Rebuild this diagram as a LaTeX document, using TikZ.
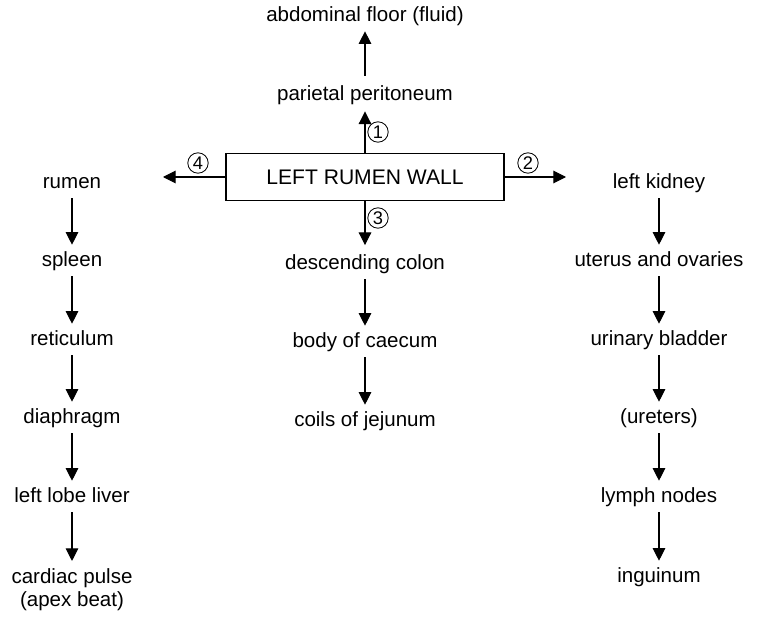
\documentclass[tikz,border=0pt]{standalone}
\usepackage{fontspec}
\setmainfont{Liberation Sans}
\usetikzlibrary{arrows.meta, positioning}

\tikzset{
  organ/.style={inner sep=0pt, text height=10pt, text depth=3pt, font=\fontsize{14.6}{16.5}\selectfont},
  flow/.style={-{Triangle[width=9pt,length=9pt]}, line width=0.75pt},
  gap/.style={shorten <=3.5pt, shorten >=5.6pt},
  num/.style={draw, circle, line width=0.6pt, inner sep=0pt, minimum size=14.5pt, font=\fontsize{13}{13}\selectfont},
}

\begin{document}
\begin{tikzpicture}[x=0.025cm, y=-0.025cm]
    \useasboundingbox (0,0) rectangle (759,617);

    % Caixa central
    \node[draw, line width=0.75pt, minimum width=197.7pt, minimum height=34pt,
          font=\fontsize{15}{17}\selectfont] (wall) at (365,177) {LEFT RUMEN WALL};

    % Coluna do meio
    \node[organ] (floor) at (365,17) {abdominal floor (fluid)};
    \node[organ] (parietal) at (365,96) {parietal peritoneum};
    \node[organ] (colon) at (365,265) {descending colon};
    \node[organ] (caecum) at (365,343) {body of caecum};
    \node[organ] (jejunum) at (365,422) {coils of jejunum};

    % Coluna esquerda
    \foreach \name/\txt/\y in {rumen/rumen/184, spleen/spleen/262, reticulum/reticulum/341,
                               diaphragm/diaphragm/419, liver/left lobe liver/498} {
        \node[organ] (\name) at (72,\y) {\txt};
    }
    \node[inner sep=0pt, anchor=north, align=center, font=\fontsize{14.6}{16.5}\selectfont]
        (pulse) at (72,568) {cardiac pulse\\(apex beat)};

    % Coluna direita
    \foreach \name/\txt/\y in {kidney/left kidney/184, uterus/uterus and ovaries/262,
                               bladder/urinary bladder/341, ureters/(ureters)/419,
                               lymph/lymph nodes/498, inguinum/inguinum/578} {
        \node[organ] (\name) at (659,\y) {\txt};
    }

    % Setas da caixa
    \coordinate (toRumen) at (163,177);
    \coordinate (toKidney) at (566,177);
    \draw[flow, shorten >=4.3pt] (wall.north) -- (parietal.south);
    \draw[flow] (wall.east) -- (toKidney);
    \draw[flow, shorten >=7.5pt] (wall.south) -- (colon.north);
    \draw[flow] (wall.west) -- (toRumen);
    \draw[flow, shorten <=7.8pt, shorten >=3.5pt] (parietal.north) -- (floor.south);

    % Numeros
    \node[num] (n1) at (378,132) {1};
    \node[num] (n2) at (528,163) {2};
    \node[num] (n3) at (378,218) {3};
    \node[num] (n4) at (198,163) {4};

    % Setas das colunas
    \foreach \a/\b in {colon/caecum, caecum/jejunum, rumen/spleen, spleen/reticulum,
                       reticulum/diaphragm, diaphragm/liver, kidney/uterus, uterus/bladder,
                       bladder/ureters, ureters/lymph, lymph/inguinum} {
        \draw[flow, gap] (\a.south) -- (\b.north);
    }
    \draw[flow, shorten <=3.5pt, shorten >=5pt] (liver.south) -- (pulse.north);
\end{tikzpicture}
\end{document}
